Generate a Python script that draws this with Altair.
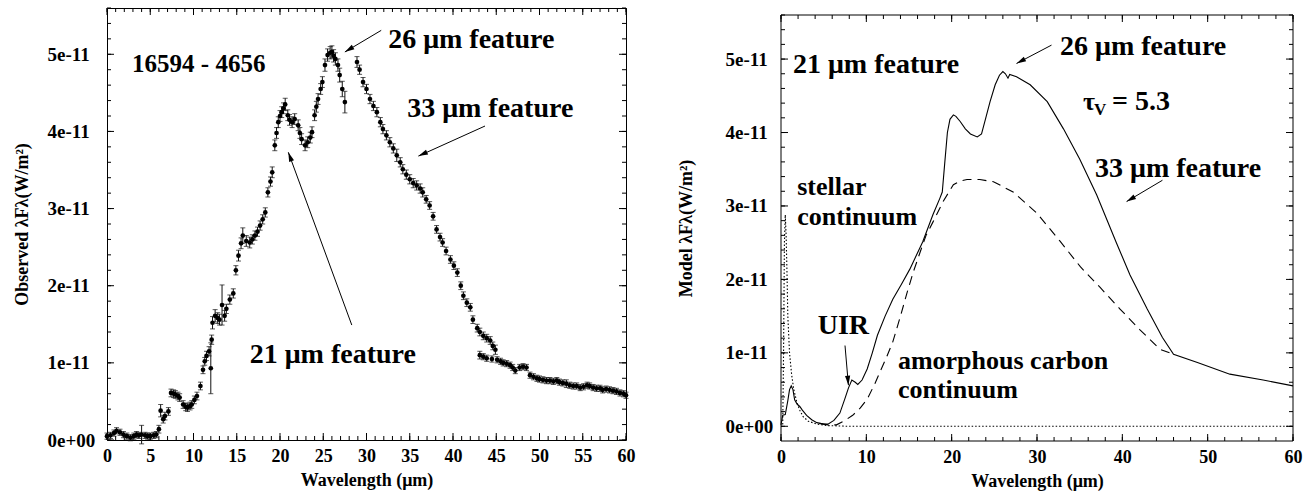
import math
import altair as alt
import pandas as pd

UNIT = 1e-11  # every flux table below is given in units of 1e-11 W/m^2
FONT = "Liberation Serif"

# ---------------- observed spectrum of 16594-4656 ----------------
obs_wavelength = [
    0.0, 0.4, 0.8, 1.1, 1.5, 1.9, 2.3, 2.7, 3.1, 3.4,
    3.7, 4.0, 4.4, 4.7, 5.0, 5.4, 5.7, 6.0, 6.2, 6.5,
    6.7, 7.1, 7.4, 7.7, 7.9, 8.2, 8.4, 8.8, 9.1, 9.3,
    9.6, 9.8, 10.1, 10.4, 10.8, 11.1, 11.3, 11.5, 11.8, 12.0,
    12.1, 12.2, 12.5, 12.8, 13.0, 13.3, 13.6, 13.8, 14.2, 14.6,
    14.9, 15.2, 15.5, 15.7, 16.1, 16.5, 16.8, 17.1, 17.4, 17.7,
    18.0, 18.3, 18.6, 18.9, 19.1, 19.4, 19.6, 19.8, 20.0, 20.2,
    20.4, 20.6, 20.9, 21.1, 21.4, 21.7, 22.1, 22.3, 22.5, 22.9,
    23.2, 23.5, 23.7, 24.0, 24.2, 24.4, 24.7, 24.9, 25.2, 25.5,
    25.8, 26.0, 26.2, 26.4, 26.7, 26.9, 27.2, 27.5, 28.9, 29.2,
    29.6, 30.0, 30.4, 30.8, 31.2, 31.6, 31.9, 32.3, 32.7, 33.1,
    33.5, 33.9, 34.2, 34.6, 35.0, 35.4, 35.8, 36.2, 36.5, 36.9,
    37.3, 37.7, 38.1, 38.5, 38.8, 39.2, 39.7, 40.1, 40.5, 40.9,
    41.2, 41.6, 42.0, 42.3, 42.8, 43.1, 43.5, 43.9, 44.3, 44.6,
    44.9, 43.1, 43.5, 43.9, 44.5, 45.1, 45.5, 45.8, 46.2, 46.6,
    46.9, 47.2, 47.7, 48.1, 48.5, 48.9, 49.3, 49.7, 50.0, 50.4,
    50.8, 51.2, 51.6, 52.0, 52.3, 52.7, 53.1, 53.5, 53.9, 54.3,
    54.7, 55.1, 55.5, 55.8, 56.2, 56.6, 57.0, 57.3, 57.7, 58.1,
    58.5, 58.9, 59.3, 59.7, 60.0,
]
obs_flux = [
    0.05, 0.06, 0.09, 0.12, 0.10, 0.07, 0.05, 0.03, 0.05, 0.07,
    0.06, 0.07, 0.06, 0.05, 0.05, 0.06, 0.07, 0.14, 0.38, 0.27,
    0.31, 0.37, 0.61, 0.60, 0.59, 0.57, 0.55, 0.46, 0.43, 0.42,
    0.44, 0.46, 0.52, 0.57, 0.70, 0.91, 1.02, 1.09, 1.15, 0.93,
    1.30, 1.52, 1.61, 1.58, 1.56, 1.75, 1.61, 1.70, 1.82, 1.90,
    2.20, 2.39, 2.55, 2.65, 2.58, 2.56, 2.60, 2.65, 2.70, 2.78,
    2.86, 2.95, 3.21, 3.35, 3.47, 3.82, 3.98, 4.12, 4.20, 4.25,
    4.30, 4.35, 4.21, 4.15, 4.12, 4.16, 4.08, 3.98, 3.90, 3.82,
    3.86, 3.92, 3.99, 4.21, 4.32, 4.42, 4.55, 4.64, 4.86, 4.99,
    5.02, 5.03, 4.98, 4.94, 4.86, 4.73, 4.55, 4.38, 4.90, 4.80,
    4.64, 4.55, 4.42, 4.33, 4.25, 4.12, 4.03, 3.95, 3.86, 3.78,
    3.69, 3.60, 3.51, 3.44, 3.38, 3.33, 3.30, 3.26, 3.21, 3.12,
    3.04, 2.90, 2.73, 2.63, 2.56, 2.45, 2.34, 2.26, 2.17, 2.00,
    1.87, 1.78, 1.72, 1.56, 1.45, 1.40, 1.35, 1.32, 1.29, 1.22,
    1.17, 1.10, 1.08, 1.06, 1.05, 1.04, 1.02, 1.00, 0.99, 0.97,
    0.94, 0.90, 0.94, 0.95, 0.94, 0.84, 0.82, 0.80, 0.79, 0.78,
    0.77, 0.77, 0.76, 0.77, 0.75, 0.74, 0.73, 0.71, 0.70, 0.70,
    0.68, 0.69, 0.71, 0.70, 0.68, 0.67, 0.67, 0.65, 0.66, 0.65,
    0.64, 0.63, 0.61, 0.60, 0.58,
]
obs_error = [
    0.04, 0.04, 0.04, 0.04, 0.04, 0.04, 0.04, 0.04, 0.04, 0.04,
    0.04, 0.12, 0.04, 0.04, 0.04, 0.04, 0.04, 0.05, 0.08, 0.05,
    0.05, 0.05, 0.05, 0.05, 0.05, 0.05, 0.05, 0.05, 0.05, 0.05,
    0.05, 0.05, 0.05, 0.05, 0.05, 0.05, 0.05, 0.06, 0.06, 0.33,
    0.06, 0.08, 0.08, 0.07, 0.07, 0.26, 0.07, 0.06, 0.06, 0.06,
    0.06, 0.07, 0.07, 0.10, 0.07, 0.07, 0.06, 0.06, 0.06, 0.06,
    0.06, 0.06, 0.06, 0.06, 0.07, 0.07, 0.07, 0.07, 0.07, 0.07,
    0.07, 0.08, 0.07, 0.07, 0.07, 0.07, 0.07, 0.07, 0.07, 0.07,
    0.07, 0.07, 0.07, 0.07, 0.07, 0.07, 0.07, 0.07, 0.08, 0.08,
    0.08, 0.08, 0.08, 0.08, 0.08, 0.09, 0.10, 0.14, 0.07, 0.06,
    0.06, 0.06, 0.06, 0.06, 0.06, 0.06, 0.06, 0.06, 0.06, 0.06,
    0.08, 0.06, 0.06, 0.06, 0.06, 0.06, 0.06, 0.06, 0.06, 0.05,
    0.05, 0.05, 0.05, 0.05, 0.05, 0.05, 0.05, 0.05, 0.05, 0.05,
    0.05, 0.05, 0.05, 0.05, 0.05, 0.05, 0.05, 0.05, 0.05, 0.05,
    0.06, 0.05, 0.04, 0.04, 0.04, 0.04, 0.04, 0.04, 0.04, 0.04,
    0.04, 0.04, 0.04, 0.04, 0.04, 0.04, 0.04, 0.04, 0.04, 0.04,
    0.04, 0.04, 0.04, 0.04, 0.04, 0.04, 0.05, 0.04, 0.04, 0.04,
    0.04, 0.04, 0.04, 0.04, 0.04, 0.04, 0.04, 0.04, 0.04, 0.04,
    0.04, 0.04, 0.04, 0.04, 0.04,
]

# ---------------- radiative-transfer model ----------------
model_wavelength = [
    0.0, 0.2, 0.5, 0.8, 1.0, 1.2, 1.4, 1.6, 1.9, 2.2,
    2.5, 3.0, 3.6, 4.2, 5.0, 5.5, 6.2, 6.9, 7.5, 7.9,
    8.3, 8.7, 9.0, 9.5, 10.1, 10.7, 11.3, 12.2, 13.1, 14.1,
    15.1, 16.6, 17.8, 18.6, 18.9, 19.2, 19.5, 19.8, 20.2, 20.5,
    21.0, 21.6, 22.2, 23.0, 23.5, 24.0, 24.5, 25.1, 25.6, 26.0,
    26.3, 26.6, 26.8, 27.6, 29.2, 31.2, 33.1, 35.0, 37.0, 39.3,
    40.9, 42.9, 44.7, 46.0, 48.8, 52.6, 56.5, 60.0,
]
model_flux = [
    0.02, 0.15, 0.16, 0.35, 0.50, 0.55, 0.50, 0.36, 0.30, 0.27,
    0.22, 0.15, 0.09, 0.05, 0.03, 0.03, 0.08, 0.18, 0.38, 0.52,
    0.63, 0.60, 0.57, 0.63, 0.78, 1.00, 1.24, 1.50, 1.73, 1.93,
    2.14, 2.51, 2.88, 3.10, 3.19, 3.60, 4.00, 4.18, 4.24, 4.22,
    4.15, 4.05, 3.98, 3.94, 3.98, 4.20, 4.42, 4.65, 4.78, 4.83,
    4.80, 4.74, 4.79, 4.76, 4.65, 4.42, 4.05, 3.64, 3.15, 2.50,
    2.06, 1.60, 1.21, 0.98, 0.87, 0.71, 0.63, 0.55,
]
carbon_wavelength = [
    4.5, 5.5, 6.5, 7.5, 8.4, 9.3, 10.1, 11.0, 11.6, 12.4,
    13.1, 14.0, 14.8, 15.5, 16.3, 17.0, 17.8, 19.0, 20.2, 21.0,
    21.8, 23.3, 24.9, 27.2, 30.0, 32.7, 35.1, 37.4, 39.7, 42.1,
    44.4, 46.0,
]
carbon_flux = [
    0.04, 0.02, 0.02, 0.08, 0.15, 0.25, 0.37, 0.58, 0.74, 0.95,
    1.15, 1.50, 1.83, 2.10, 2.37, 2.60, 2.78, 3.06, 3.29, 3.34,
    3.36, 3.36, 3.33, 3.19, 2.90, 2.52, 2.17, 1.89, 1.60, 1.31,
    1.05, 0.98,
]
stellar_wavelength = [
    0.0, 0.2, 0.3, 0.4, 0.5, 0.6, 0.7, 0.8, 1.0, 1.25,
    1.5, 1.85, 2.2, 2.6, 3.2, 4.2, 5.5, 8.0, 15.0, 30.0, 60.0,
]
stellar_flux = [
    0.0, 0.0, 1.0, 2.5, 2.88, 2.6, 2.1, 1.5, 1.0, 0.7,
    0.5, 0.33, 0.22, 0.13, 0.07, 0.03, 0.01, 0.0, 0.0, 0.0, 0.0,
]

# ---------------- annotations (wavelength, flux in 1e-11) ----------------
obs_name = ["16594 - 4656"]
obs_name_x = [2.9]
obs_name_y = [4.87]
obs_labels = ["26 μm feature", "33 μm feature", "21 μm feature"]
obs_label_x = [32.5, 34.7, 16.5]
obs_label_y = [5.19, 4.29, 1.10]
obs_arrow_tail_x = [31.7, 43.7, 28.3]
obs_arrow_tail_y = [5.31, 4.07, 1.49]
obs_arrow_head_x = [27.5, 36.0, 20.96]
obs_arrow_head_y = [5.03, 3.68, 3.73]

model_labels = ["21 μm feature", "26 μm feature", "33 μm feature", "UIR"]
model_label_x = [1.4, 32.7, 36.8, 4.3]
model_label_y = [4.92, 5.17, 3.51, 1.36]
model_notes = ["stellar", "continuum", "amorphous carbon", "continuum"]
model_note_x = [1.9, 1.9, 13.7, 13.7]
model_note_y = [3.26, 2.85, 0.89, 0.49]
tau_x, tau_y = 35.4, 4.42
model_arrow_tail_x = [31.7, 44.7, 7.5]
model_arrow_tail_y = [5.19, 3.35, 1.10]
model_arrow_head_x = [27.6, 40.5, 7.9]
model_arrow_head_y = [4.94, 3.06, 0.56]

# ---------------- axes ----------------
x_ticks_obs = list(range(0, 61, 5))
x_minor_obs = list(range(0, 61, 1))
x_ticks_model = list(range(0, 61, 10))
x_minor_model = list(range(0, 61, 2))
y_ticks = [k * UNIT for k in range(0, 6)]
y_minor = [k * 0.2 * UNIT for k in range(0, 29)]

OBS_W, OBS_H, OBS_TOP = 519, 432, 0
OBS_YDOM = [0.0, 5.6]
MOD_W, MOD_H, MOD_TOP = 512, 433, 7
MOD_YDOM = [-0.2, 5.6]

MAJOR_LEN, MINOR_LEN = 7, 4
LABEL_EXPR = "datum.value == 0 ? '0e+00' : format(datum.value, '.0e')"
HEAD_PATH = "M0,0L0.3,1.1L-0.3,1.1Z"


def frame_layers(xs, ys, x_major, x_minor, y_title, y_label_pad, y_title_pad, w, h, top):
    """Axis labels/titles plus inward-pointing ticks on all four sides."""
    corner = pd.DataFrame({"x": [0.0], "y": [0.0]})
    axes = alt.Chart(corner).mark_point(opacity=0).encode(
        x=alt.X("x:Q", scale=xs, title="Wavelength (μm)",
                axis=alt.Axis(values=x_major, ticks=False, tickSize=0, domain=False,
                              grid=False, labelPadding=7, format="d", labelFlush=False,
                              labelOverlap=False, titlePadding=6, labelFontSize=18)),
        y=alt.Y("y:Q", scale=ys, title=y_title,
                axis=alt.Axis(values=y_ticks, ticks=False, tickSize=0, domain=False,
                              grid=False, labelAlign="left", labelPadding=y_label_pad,
                              labelExpr=LABEL_EXPR, labelOverlap=False,
                              titlePadding=y_title_pad, labelFontSize=19)),
    )
    layers = [axes]
    for vals, ln in ((x_major, MAJOR_LEN), (x_minor, MINOR_LEN)):
        tick_df = pd.DataFrame({"v": vals})
        xenc = alt.X("v:Q", scale=xs, axis=None)
        layers.append(alt.Chart(tick_df).mark_rule(color="black", strokeWidth=1).encode(
            x=xenc, y=alt.value(h - ln), y2=alt.value(h)))
        layers.append(alt.Chart(tick_df).mark_rule(color="black", strokeWidth=1).encode(
            x=xenc, y=alt.value(top), y2=alt.value(top + ln)))
    for vals, ln in ((y_ticks, MAJOR_LEN), (y_minor, MINOR_LEN)):
        tick_df = pd.DataFrame({"v": vals})
        yenc = alt.Y("v:Q", scale=ys, axis=None)
        layers.append(alt.Chart(tick_df).mark_rule(color="black", strokeWidth=1).encode(
            y=yenc, x=alt.value(0), x2=alt.value(ln)))
        layers.append(alt.Chart(tick_df).mark_rule(color="black", strokeWidth=1).encode(
            y=yenc, x=alt.value(w - ln), x2=alt.value(w)))
    if top:
        # the plot box starts below the top of the panel: draw its outline here
        edge = alt.Chart(corner).mark_rule(color="black", strokeWidth=1)
        layers += [
            edge.encode(x=alt.value(0), x2=alt.value(w), y=alt.value(top)),
            edge.encode(x=alt.value(0), x2=alt.value(w), y=alt.value(h)),
            edge.encode(x=alt.value(0), y=alt.value(top), y2=alt.value(h)),
            edge.encode(x=alt.value(w), y=alt.value(top), y2=alt.value(h)),
        ]
    return layers


def text_layer(xs, ys, labels, lx, ly, size):
    df = pd.DataFrame({"x": lx, "y": [v * UNIT for v in ly], "text": labels})
    return alt.Chart(df).mark_text(
        align="left", baseline="middle", font=FONT, fontSize=size,
        fontWeight="bold", color="black",
    ).encode(
        x=alt.X("x:Q", scale=xs, axis=None),
        y=alt.Y("y:Q", scale=ys, axis=None),
        text="text:N",
    )


def arrow_layers(xs, ys, tx, ty, hx, hy, px_x, px_y):
    angles = []
    for a, b, c, d in zip(tx, ty, hx, hy):
        dxp = (c - a) * px_x
        dyp = -(d - b) * px_y
        angles.append(math.degrees(math.atan2(dxp, -dyp)) % 360)
    df = pd.DataFrame({
        "x": tx, "y": [v * UNIT for v in ty],
        "x2": hx, "y2": [v * UNIT for v in hy], "angle": angles,
    })
    shaft = alt.Chart(df).mark_rule(color="black", strokeWidth=1).encode(
        x=alt.X("x:Q", scale=xs, axis=None),
        y=alt.Y("y:Q", scale=ys, axis=None),
        x2="x2:Q", y2="y2:Q",
    )
    head = alt.Chart(df).mark_point(
        shape=HEAD_PATH, filled=True, color="black", size=300, opacity=1
    ).encode(
        x=alt.X("x2:Q", scale=xs, axis=None),
        y=alt.Y("y2:Q", scale=ys, axis=None),
        angle=alt.Angle("angle:Q", scale=None),
    )
    return [shaft, head]


# ---------------- left panel: observed ----------------
xs_obs = alt.Scale(domain=[0, 60], nice=False, zero=False)
ys_obs = alt.Scale(domain=[OBS_YDOM[0] * UNIT, OBS_YDOM[1] * UNIT], nice=False, zero=False)

obs_df = pd.DataFrame({
    "wl": obs_wavelength,
    "flux": [v * UNIT for v in obs_flux],
    "lo": [(v - e) * UNIT for v, e in zip(obs_flux, obs_error)],
    "hi": [(v + e) * UNIT for v, e in zip(obs_flux, obs_error)],
})
obs_base = alt.Chart(obs_df)
err_bars = obs_base.mark_rule(color="#111111", strokeWidth=1).encode(
    x=alt.X("wl:Q", scale=xs_obs, axis=None),
    y=alt.Y("lo:Q", scale=ys_obs, axis=None),
    y2="hi:Q",
)
cap_lo = obs_base.mark_tick(orient="horizontal", size=5, thickness=1, color="#111111").encode(
    x=alt.X("wl:Q", scale=xs_obs, axis=None),
    y=alt.Y("lo:Q", scale=ys_obs, axis=None),
)
cap_hi = obs_base.mark_tick(orient="horizontal", size=5, thickness=1, color="#111111").encode(
    x=alt.X("wl:Q", scale=xs_obs, axis=None),
    y=alt.Y("hi:Q", scale=ys_obs, axis=None),
)
obs_points = obs_base.mark_point(filled=True, size=22, color="black", opacity=1).encode(
    x=alt.X("wl:Q", scale=xs_obs, axis=None),
    y=alt.Y("flux:Q", scale=ys_obs, axis=None),
)

obs_px_x = OBS_W / 60.0
obs_px_y = OBS_H / (OBS_YDOM[1] - OBS_YDOM[0])

left = alt.layer(
    *frame_layers(xs_obs, ys_obs, x_ticks_obs, x_minor_obs,
                  "Observed λFλ(W/m²)", 60, 16, OBS_W, OBS_H, OBS_TOP),
    err_bars, cap_lo, cap_hi, obs_points,
    text_layer(xs_obs, ys_obs, obs_name, obs_name_x, obs_name_y, 25),
    text_layer(xs_obs, ys_obs, obs_labels, obs_label_x, obs_label_y, 28),
    *arrow_layers(xs_obs, ys_obs, obs_arrow_tail_x, obs_arrow_tail_y,
                  obs_arrow_head_x, obs_arrow_head_y, obs_px_x, obs_px_y),
).resolve_axis(x="independent", y="independent").properties(width=OBS_W, height=OBS_H)

# ---------------- right panel: model ----------------
xs_mod = alt.Scale(domain=[0, 60], nice=False, zero=False)
ys_mod = alt.Scale(domain=[MOD_YDOM[0] * UNIT, MOD_YDOM[1] * UNIT], nice=False, zero=False,
                   range=[MOD_H, MOD_TOP])


def curve(wl, flux, dash):
    df = pd.DataFrame({"wl": wl, "flux": [v * UNIT for v in flux]})
    kw = {"strokeDash": dash} if dash else {}
    return alt.Chart(df).mark_line(color="black", strokeWidth=1.1, **kw).encode(
        x=alt.X("wl:Q", scale=xs_mod, axis=None),
        y=alt.Y("flux:Q", scale=ys_mod, axis=None),
        order="wl:Q",
    )


mod_px_x = MOD_W / 60.0
mod_px_y = (MOD_H - MOD_TOP) / (MOD_YDOM[1] - MOD_YDOM[0])

tau_df = pd.DataFrame({"x": [tau_x], "y": [tau_y * UNIT]})
tau_base = alt.Chart(tau_df)
tau_enc = dict(x=alt.X("x:Q", scale=xs_mod, axis=None), y=alt.Y("y:Q", scale=ys_mod, axis=None))
tau_sym = tau_base.mark_text(align="left", baseline="middle", font=FONT, fontSize=26,
                             fontWeight="bold", color="black", text="τ").encode(**tau_enc)
tau_sub = tau_base.mark_text(align="left", baseline="middle", font=FONT, fontSize=17,
                             fontWeight="bold", color="black", text="V", dx=11, dy=8).encode(**tau_enc)
tau_val = tau_base.mark_text(align="left", baseline="middle", font=FONT, fontSize=28,
                             fontWeight="bold", color="black", text="= 5.3", dx=29).encode(**tau_enc)

right = alt.layer(
    *frame_layers(xs_mod, ys_mod, x_ticks_model, x_minor_model,
                  "Model λFλ(W/m²)", 56, 30, MOD_W, MOD_H, MOD_TOP),
    curve(stellar_wavelength, stellar_flux, [1.5, 2]),
    curve(carbon_wavelength, carbon_flux, [9, 6]),
    curve(model_wavelength, model_flux, None),
    text_layer(xs_mod, ys_mod, model_labels, model_label_x, model_label_y, 28),
    text_layer(xs_mod, ys_mod, model_notes, model_note_x, model_note_y, 26),
    tau_sym, tau_sub, tau_val,
    *arrow_layers(xs_mod, ys_mod, model_arrow_tail_x, model_arrow_tail_y,
                  model_arrow_head_x, model_arrow_head_y, mod_px_x, mod_px_y),
).resolve_axis(x="independent", y="independent").properties(
    width=MOD_W, height=MOD_H, view=alt.ViewBackground(stroke="transparent"),
)

chart = alt.hconcat(left, right, spacing=40).properties(
    padding={"left": 12, "top": 6, "right": 5, "bottom": 5},
    background="white",
).configure_view(
    stroke="black", strokeWidth=1,
).configure_axis(
    labelFont=FONT, titleFont=FONT, labelFontWeight="bold", titleFontWeight="bold",
    titleFontSize=18, labelColor="black", titleColor="black",
)

chart.save("out.html", embed_options={"renderer": "svg", "actions": False})
